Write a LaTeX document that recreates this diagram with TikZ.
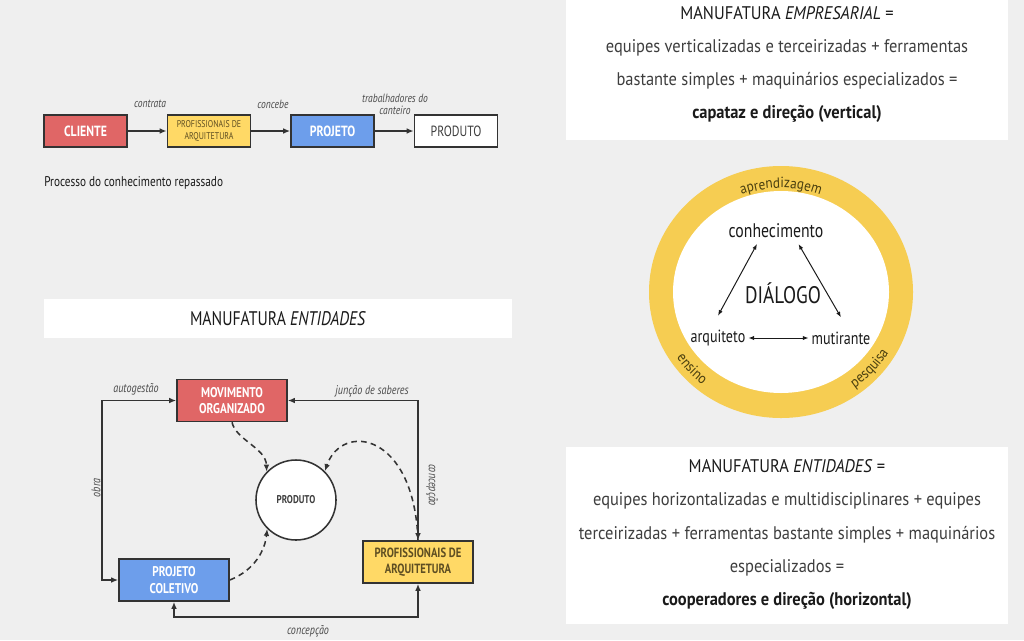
\documentclass[tikz,border=0pt]{standalone}
\usepackage{fontspec}
\setmainfont{PT Sans}
\newfontfamily\cond[FakeStretch=0.8]{PT Sans}
\newfontfamily\semicond[FakeStretch=0.9]{PT Sans}
\usetikzlibrary{arrows.meta,decorations.text}

\definecolor{bgc}{HTML}{EFEFEF}
\definecolor{cred}{HTML}{E06666}
\definecolor{cyel}{HTML}{FFD966}
\definecolor{cblue}{HTML}{6D9EEB}
\definecolor{edge}{HTML}{333333}
\definecolor{ytext}{HTML}{5E4E22}
\definecolor{txtg}{HTML}{3E3E3E}
\definecolor{txtb}{HTML}{1A1A1A}
\definecolor{lblc}{HTML}{4A4A4A}
\definecolor{ringc}{HTML}{F6CD52}
\definecolor{ringtxt}{HTML}{4A3F0F}

\newcommand\ringfont{\semicond\fontsize{10.5}{12}\selectfont\color{ringtxt}}

\begin{document}
\begin{tikzpicture}[x=0.025cm,y=-0.025cm,>={Latex[length=5pt,width=4pt]}]
		\tikzstyle{box}=[draw=edge,line width=1.1pt,align=center,inner sep=1pt]
		\tikzstyle{small}=[box,minimum width=2.075cm,minimum height=0.8cm]
		\tikzstyle{big}=[box,minimum width=2.75cm,minimum height=1.05cm]
		\tikzstyle{lbl}=[font=\cond\itshape\fontsize{8.5}{8}\selectfont,text=lblc,inner sep=1pt]
		\tikzstyle{flow}=[->,line width=1.1pt,draw=edge]
		\tikzstyle{curvy}=[->,line width=1.1pt,draw=edge,dash pattern=on 4pt off 3pt]
		\tikzstyle{panel}=[fill=white,inner sep=0pt]
		\tikzstyle{word}=[font=\cond\fontsize{12.5}{14}\selectfont,text=txtb,inner sep=2pt]
		\tikzstyle{dlg}=[<->,line width=0.7pt,draw=txtb,>={Latex[length=4pt,width=3pt]}]
		
		\useasboundingbox (0,0) rectangle (1024,640);
		\fill[bgc] (0,0) rectangle (1024,640);
		
		% processo repassado
		\node[small,fill=cred,text=white,font=\cond\bfseries\fontsize{10.5}{11}\selectfont](cli) at (85.5,131){CLIENTE};
		\node[small,fill=cyel,text=ytext,font=\cond\fontsize{7}{8.3}\selectfont](prof) at (209,131){PROFISSIONAIS DE\\ARQUITETURA};
		\node[small,fill=cblue,text=white,font=\cond\bfseries\fontsize{10.5}{11}\selectfont](proj) at (332.5,131){PROJETO};
		\node[small,fill=white,text=txtg,font=\cond\fontsize{10.5}{11}\selectfont](prod) at (456,131){PRODUTO};
		
		\draw[flow] (cli) -- (prof);
		\draw[flow] (prof) -- (proj);
		\draw[flow] (proj) -- (prod);
		
		\node[lbl](lcontr) at (150,104){contrata};
		\node[lbl](lconc) at (273,104){concebe};
		\node[lbl,align=center](ltrab) at (395,104.5){trabalhadores do\\canteiro};
		\node[anchor=west,inner sep=0pt,font=\cond\fontsize{10}{11}\selectfont,text=txtb](proc) at (44,183){Processo do conhecimento repassado};
		
		% manufatura entidades (esquema)
		\node[panel,minimum width=11.7cm,minimum height=0.975cm,font=\cond\fontsize{14}{15}\selectfont,text=txtb](bann) at (278,318.5){MANUFATURA \textit{ENTIDADES}};
		
		\node[big,fill=cred,text=white,font=\cond\bfseries\fontsize{10}{11.5}\selectfont](mov) at (232,400.5){MOVIMENTO\\ORGANIZADO};
		\node[draw=edge,line width=1.1pt,circle,fill=white,minimum size=2cm,font=\cond\bfseries\fontsize{8}{9}\selectfont,text=txtg](pr) at (296,500){PRODUTO};
		\node[big,fill=cblue,text=white,font=\cond\bfseries\fontsize{10}{11.5}\selectfont](pc) at (174,580){PROJETO\\COLETIVO};
		\node[big,fill=cyel,text=ytext,font=\cond\bfseries\fontsize{9.5}{11.5}\selectfont](pa) at (418,562){PROFISSIONAIS DE\\ARQUITETURA};
		
		\draw[<->,line width=1.1pt,draw=edge] (mov.west) -- ++(-74,0) |- (pc.west);
		\draw[<->,line width=1.1pt,draw=edge] (mov.east) -| (pa.north);
		\draw[<->,line width=1.1pt,draw=edge] (pa.south) -- ++(0,33) -| (pc.south);
		
		\draw[curvy] (mov.south) .. controls (236,440) and (266,448) .. (pr.136);
		\draw[curvy] (pa.north) .. controls (414,432) and (342,422) .. (pr.45);
		\draw[curvy] (pc.east) .. controls (255,570) and (265,550) .. (pr.225);
		
		\node[lbl,font=\cond\itshape\fontsize{9}{10}\selectfont](lauto) at (136,389){autogestão};
		\node[lbl,font=\cond\itshape\fontsize{9}{10}\selectfont](ljunc) at (372,391){junção de saberes};
		\node[lbl,font=\cond\itshape\fontsize{9}{10}\selectfont,rotate=90](lobra) at (96,488){obra};
		\node[lbl,font=\cond\itshape\fontsize{9}{10}\selectfont,rotate=-90](lcdir) at (432,485){concepção};
		\node[lbl,font=\cond\itshape\fontsize{9}{10}\selectfont](lcbai) at (308,631){concepção};
		
		% quadro empresarial
		\node[panel,minimum width=11.05cm,minimum height=3.5cm](pemp) at (787,70){};
		\node[align=center,font=\semicond\fontsize{13}{23.5}\selectfont,text=txtb](temp) at (787,64.5){MANUFATURA \textit{EMPRESARIAL} =\\
			{\color{txtg}equipes verticalizadas e terceirizadas + ferramentas}\\
			{\color{txtg}bastante simples + maquinários especializados =}\\
			\textbf{capataz e direção (vertical)}};
		
		% circulo do dialogo
		\coordinate (rc) at (781,292);
		\fill[ringc] (rc) ellipse[x radius=132,y radius=126];
		\fill[white] (rc) ellipse[x radius=108,y radius=101];
		\path[decorate,decoration={text along path,text align=center,text={|\ringfont|aprendizagem}}] (rc) ++(200:109 and 104) arc[start angle=200,end angle=340,x radius=109,y radius=104];
		\path[decorate,decoration={text along path,text align=center,text={|\ringfont|ensino}}] (rc) ++(165:125 and 119) arc[start angle=165,end angle=111,x radius=125,y radius=119];
		\path[decorate,decoration={text along path,text align=center,text={|\ringfont|pesquisa}}] (rc) ++(70:125 and 119) arc[start angle=70,end angle=14,x radius=125,y radius=119];
		
		\node[word,font=\cond\fontsize{14}{15}\selectfont](conh) at (776,231){conhecimento};
		\node[word,font=\cond\fontsize{17}{18}\selectfont](dial) at (783,293){DIÁLOGO};
		\node[word](arq) at (718,338){arquiteto};
		\node[word](mut) at (841,338){mutirante};
		
		\draw[dlg] ([xshift=-13.5pt,yshift=-2pt]conh.south) -- ([yshift=8pt]arq.north);
		\draw[dlg] ([xshift=16pt,yshift=-2pt]conh.south) -- ([yshift=8pt]mut.north);
		\draw[dlg] (arq) -- (mut);
		
		% quadro entidades
		\node[panel,minimum width=11.05cm,minimum height=4.425cm](pent) at (787,535.5){};
		\node[align=center,font=\semicond\fontsize{13}{23.6}\selectfont,text=txtb](tent) at (787,534.5){MANUFATURA \textit{ENTIDADES} =\\
			{\color{txtg}equipes horizontalizadas e multidisciplinares + equipes}\\
			{\color{txtg}terceirizadas + ferramentas bastante simples + maquinários}\\
			{\color{txtg}especializados =}\\
			\textbf{cooperadores e direção (horizontal)}};
\end{tikzpicture}
\end{document}
